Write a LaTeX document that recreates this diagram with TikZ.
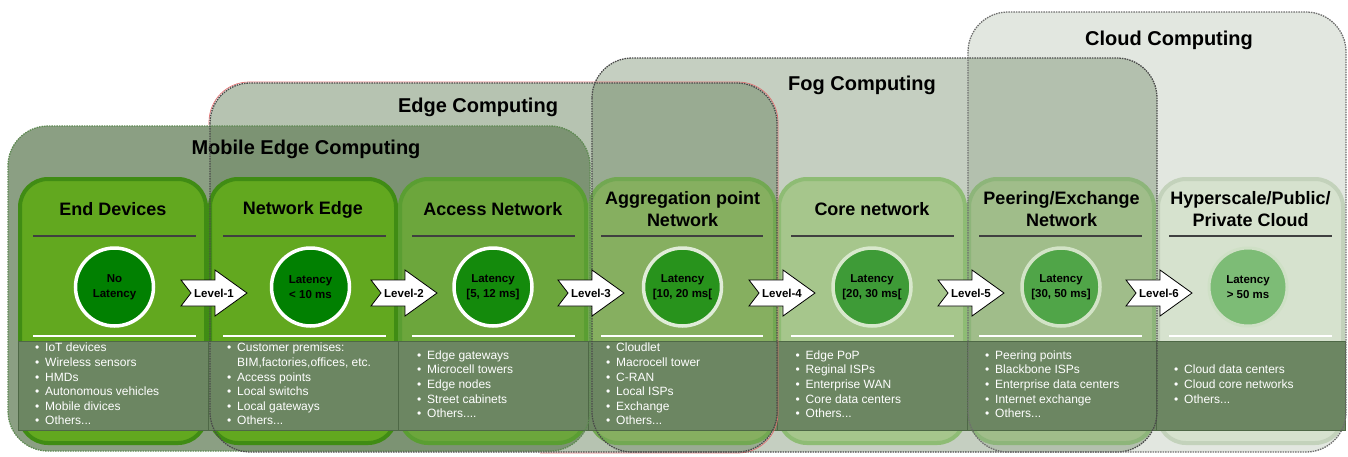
\documentclass[tikz,border=0pt]{standalone}
\usepackage{fontspec}
\setmainfont{Liberation Sans}
\usetikzlibrary{calc}
\definecolor{regc}{HTML}{6E8764}
\definecolor{c1f}{HTML}{62A81F}
\definecolor{c1d}{HTML}{408C14}
\definecolor{c3f}{HTML}{6CA63C}
\definecolor{c3d}{HTML}{5A9E32}
\definecolor{c4f}{HTML}{86AF60}
\definecolor{c4d}{HTML}{72A852}
\definecolor{c5f}{HTML}{A6C68C}
\definecolor{c5d}{HTML}{8EBC74}
\definecolor{c6f}{HTML}{A0BD8A}
\definecolor{c6d}{HTML}{8DB57A}
\definecolor{c7f}{HTML}{D6E2CE}
\definecolor{c7d}{HTML}{C3D2BB}
\definecolor{k1}{HTML}{018001}
\definecolor{k3}{HTML}{148A0C}
\definecolor{k4}{HTML}{28931C}
\definecolor{k5}{HTML}{3E9B37}
\definecolor{k6}{HTML}{50A548}
\definecolor{k7}{HTML}{7DBC76}
\definecolor{b4}{HTML}{E0ECD8}
\definecolor{b5}{HTML}{D8E8CC}
\definecolor{b6}{HTML}{D2E3C6}
\definecolor{b7}{HTML}{CFE0C6}
\definecolor{band}{HTML}{6C8662}
\definecolor{bandline}{HTML}{4E6846}
\definecolor{dashc}{HTML}{4A4A4A}
\definecolor{mecdash}{HTML}{5E8A52}
\definecolor{edgered}{HTML}{E07070}
\tikzset{
 region/.style={fill=regc, rounded corners=40},
 regborder/.style={draw=dashc, line width=1.3, dash pattern=on 1.5pt off 1pt, rounded corners=40},
 regtitle/.style={font=\fontsize{20}{24}\selectfont\bfseries, text=black, inner sep=0},
 colbox/.style={line width=4, rounded corners=28},
 coltitle/.style={font=\fontsize{18}{22}\selectfont\bfseries, align=center, inner sep=0},
 latency/.style={circle, minimum size=78, line width=3.5, font=\fontsize{11.5}{14.5}\selectfont\bfseries, align=center, inner sep=0},
 listtext/.style={font=\fontsize{12}{14.6}\selectfont, text=white, anchor=west, inner sep=0},
 lvlarrow/.style={draw=black, line width=0.8, fill=white, line join=miter},
 lvltext/.style={font=\fontsize{11.5}{14}\selectfont\bfseries, inner sep=0},
 darkrule/.style={draw=black!75, line width=2},
 lightrule/.style={draw=white, line width=2},
}
\newcommand{\blist}[1]{\begin{tabular}{@{}l@{\hspace{5.8pt}}l@{}}#1\end{tabular}}
\begin{document}
\begin{tikzpicture}[x=1pt,y=-1pt]
\useasboundingbox (0,0) rectangle (1348,456);
% group regions (fills)
\fill[region, fill opacity=0.2] (968,12) rectangle (1346,452);
\fill[region, fill opacity=0.4] (592,58) rectangle (1157,452);
\fill[region, fill opacity=0.5] (210,83) rectangle (777,452);
\fill[region, fill opacity=0.8] (8,126) rectangle (590,451);
\node[regtitle] (tcloud) at (1169,40) {Cloud Computing};
\node[regtitle] (tfog) at (862,85) {Fog Computing};
\node[regtitle] (tedge) at (478,107) {Edge Computing};
\node[regtitle] (tmec) at (306,149) {Mobile Edge Computing};
% columns
\draw[colbox, draw=c1d, fill=c1f] (20,179) rectangle (206,443);
\draw[colbox, draw=c1d, fill=c1f] (210,179) rectangle (396,443);
\draw[colbox, draw=c3d, fill=c3f] (400,179) rectangle (586,443);
\draw[colbox, draw=c4d, fill=c4f] (590,179) rectangle (775,443);
\draw[colbox, draw=c5d, fill=c5f] (779,179) rectangle (965,443);
\draw[colbox, draw=c6d, fill=c6f] (969,179) rectangle (1154,443);
\draw[colbox, draw=c7d, fill=c7f] (1158,179) rectangle (1343,443);
% column titles
\node[coltitle] (h1) at (113,209.5) {End Devices};
\node[coltitle] (h2) at (303,209.5) {Network Edge};
\node[coltitle] (h3) at (493,209.5) {Access Network};
\node[coltitle] (h4) at (682.5,209) {Aggregation point\\Network};
\node[coltitle] (h5) at (872,209.5) {Core network};
\node[coltitle] (h6) at (1061.5,209) {Peering/Exchange\\Network};
\node[coltitle] (h7) at (1250.5,209) {Hyperscale/Public/\\Private Cloud};
% rules
\foreach \a/\b in {33/196, 223/386, 412/575, 601/763, 791/954, 979/1142, 1169/1332}{
  \draw[darkrule] (\a,236) -- (\b,236);
  \draw[lightrule] (\a,336) -- (\b,336);
}
% latency circles
\node[latency, draw=white, fill=k1] (c1) at (114.5,287) {No\\Latency};
\node[latency, draw=white, fill=k1] (c2) at (310.5,287) {Latency\\< 10 ms};
\node[latency, draw=white, fill=k3] (c3) at (493,287) {Latency\\{[5, 12 ms]}};
\node[latency, draw=b4, fill=k4] (c4) at (682.5,287) {Latency\\{[10, 20 ms[}};
\node[latency, draw=b5, fill=k5] (c5) at (872,287) {Latency\\{[20, 30 ms[}};
\node[latency, draw=b6, fill=k6] (c6) at (1061,287) {Latency\\{[30, 50 ms]}};
\node[latency, draw=b7, fill=k7, line width=3] (c7) at (1248,287) {Latency\\> 50 ms};
% band
\draw[draw=bandline, line width=1, fill=band] (18,341) rectangle (1345,430);
\foreach \x in {208,398,588,777,967,1156}{
  \draw[draw=bandline, line width=1] (\x,341) -- (\x,430);
}
% region borders
\draw[regborder, draw=mecdash] (8,126) rectangle (590,451);
\draw[edgered, line width=0.7, rounded corners=40] (209,125) -- (209,82) -- (778,82) -- (778,453) -- (540,453);
\draw[regborder] (210,83) rectangle (777,452);
\draw[regborder] (592,58) rectangle (1157,452);
\draw[regborder, draw=dashc!80] (968,12) rectangle (1346,452);
% level arrows
\foreach \n/\x in {1/214, 2/404, 3/591, 4/782, 5/971, 6/1159}{
  \coordinate (lv\n) at (\x,293);
  \draw[lvlarrow] ($(lv\n)+(-33,-13)$) -- ($(lv\n)+(1,-13)$) -- ($(lv\n)+(1,-23)$)
     -- ($(lv\n)+(33,0)$) -- ($(lv\n)+(1,23)$) -- ($(lv\n)+(1,13)$)
     -- ($(lv\n)+(-33,13)$) -- ($(lv\n)+(-23,0)$) -- cycle;
  \node[lvltext] (lt\n) at (lv\n) {Level-\n};
}
% lists
\node[listtext] (l1) at (35,385.5) {\blist{• & IoT devices\\ • & Wireless sensors\\ • & HMDs\\ • & Autonomous vehicles\\ • & Mobile divices\\ • & Others...}};
\node[listtext] (l2) at (227,385.5) {\blist{• & Customer premises:\\ & BIM,factories,offices, etc.\\ • & Access points\\ • & Local switchs\\ • & Local gateways\\ • & Others...}};
\node[listtext] (l3) at (417,385.5) {\blist{• & Edge gateways\\ • & Microcell towers\\ • & Edge nodes\\ • & Street cabinets\\ • & Others....}};
\node[listtext] (l4) at (606,385.5) {\blist{• & Cloudlet\\ • & Macrocell tower\\ • & C-RAN\\ • & Local ISPs\\ • & Exchange\\ • & Others...}};
\node[listtext] (l5) at (795.5,385.5) {\blist{• & Edge PoP\\ • & Reginal ISPs\\ • & Enterprise WAN\\ • & Core data centers\\ • & Others...}};
\node[listtext] (l6) at (985,385.5) {\blist{• & Peering points\\ • & Blackbone ISPs\\ • & Enterprise data centers\\ • & Internet exchange\\ • & Others...}};
\node[listtext] (l7) at (1174,385.5) {\blist{• & Cloud data centers\\ • & Cloud core networks\\ • & Others...}};
\end{tikzpicture}
\end{document}
